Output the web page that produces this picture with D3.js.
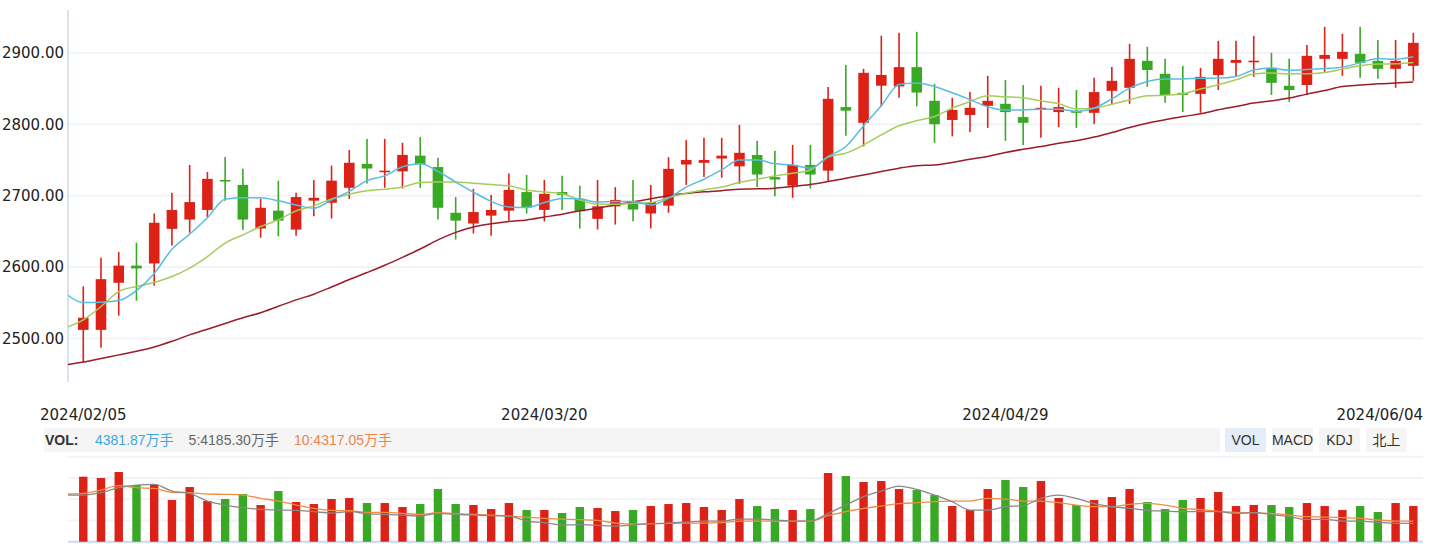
<!DOCTYPE html>
<html lang="zh">
<head>
<meta charset="UTF-8">
<title>K线 - VOL</title>
<script src="https://d3js.org/d3.v7.min.js"></script>
<style>
  html, body { margin: 0; padding: 0; background: #fff; }
  svg { display: block; font-family: "DejaVu Sans", sans-serif; }
  .hdr { font-family: "Liberation Sans", "Noto Sans CJK SC", sans-serif; font-size: 14px; }
</style>
</head>
<body>
<svg id="chart" width="1437" height="544"></svg>
<script>
// trading days shown
const dates = [
  "2024/02/05","2024/02/06","2024/02/07","2024/02/08","2024/02/19","2024/02/20","2024/02/21","2024/02/22","2024/02/23",
  "2024/02/26","2024/02/27","2024/02/28","2024/02/29","2024/03/01","2024/03/04","2024/03/05","2024/03/06","2024/03/07",
  "2024/03/08","2024/03/11","2024/03/12","2024/03/13","2024/03/14","2024/03/15","2024/03/18","2024/03/19","2024/03/20",
  "2024/03/21","2024/03/22","2024/03/25","2024/03/26","2024/03/27","2024/03/28","2024/03/29","2024/04/01","2024/04/02",
  "2024/04/03","2024/04/08","2024/04/09","2024/04/10","2024/04/11","2024/04/12","2024/04/15","2024/04/16","2024/04/17",
  "2024/04/18","2024/04/19","2024/04/22","2024/04/23","2024/04/24","2024/04/25","2024/04/26","2024/04/29","2024/04/30",
  "2024/05/06","2024/05/07","2024/05/08","2024/05/09","2024/05/10","2024/05/13","2024/05/14","2024/05/15","2024/05/16",
  "2024/05/17","2024/05/20","2024/05/21","2024/05/22","2024/05/23","2024/05/24","2024/05/27","2024/05/28","2024/05/29",
  "2024/05/30","2024/05/31","2024/06/03","2024/06/04"
];

const open = [2512,2512,2578,2602,2605,2653.5,2666.5,2680,2722,2715,2654,2679,2652.5,2693,2690,2711,2744.5,2734,2734,2756,
  2740,2676,2661,2672,2679,2705,2680,2705,2695.5,2667.5,2685,2692,2675,2686,2743.6,2746,2752,2741,2757,2726,
  2714,2743,2735,2824,2802,2854,2853,2880,2832.8,2806,2813,2825.8,2828.6,2810,2820,2817,2818.8,2816,2846.8,2851,
  2888.8,2870.6,2844,2842.6,2869,2886,2888,2879,2853.8,2855,2891.6,2891.6,2898.6,2888.8,2877.6,2881.8];
const close = [2529,2583,2602,2598,2662,2680,2691,2723.5,2721,2666.5,2683,2665,2698,2697,2721,2746,2738,2735,2757,2744,
  2683,2665,2677,2680,2708,2683,2702.5,2701,2678,2685,2694,2680.5,2691,2737.5,2750,2750,2756,2760,2729.6,2722.6,
  2743,2729.6,2835.6,2819,2872,2869,2880,2844.4,2800,2820,2823,2832.8,2817,2802,2823,2824,2816,2845,2860.8,2891.6,
  2876,2841,2841,2866.4,2891.6,2890,2889,2858,2848,2895.8,2897,2901.4,2886,2877.6,2888.8,2914];
const high = [2573,2613,2621,2634,2675,2704,2743,2733,2754,2737.5,2695.5,2721,2704,2722,2742,2764,2779.5,2779.5,2774,2782,
  2753,2698,2709.5,2701,2731,2729,2722,2728,2714,2722,2712,2722,2715,2754,2778,2781,2781,2799,2777,2763,
  2771,2771,2852,2883,2877.6,2924,2928,2929.4,2856.6,2837,2845,2867.8,2862,2855,2853.8,2851,2848,2865,2880,2912.6,
  2908.4,2891.6,2881.8,2879,2916.8,2916.8,2923.8,2900,2891.6,2911,2936.4,2926.6,2936.4,2918,2918,2928];
const low = [2467,2487,2532,2553,2574,2630,2648,2670,2693,2652,2641,2643,2644,2671,2668,2695.5,2717,2711,2710,2711,
  2666.5,2638.5,2647,2644,2665,2675,2664,2680,2654,2652.5,2659.5,2664,2654,2676,2715,2726,2725,2716.5,2712,2699,
  2697,2710,2719,2784,2769,2825,2837,2825,2774,2783,2789,2795,2776.7,2771,2781,2796,2795,2800.5,2827,2828.6,
  2852.4,2830,2817,2816,2848,2866.4,2866.4,2841,2831.4,2841,2872,2867.8,2865,2863.6,2851,2860.8];

// moving averages; first value belongs to the session before 2024/02/05 (clipped at the axis)
const ma5 = [2563,
  2550.3,2550.8,2553,2567,2591,2625,2646,2669,2695,2697,2697,2692.7,2687,2682.4,2694,2706,2721,2727.7,2740.5,2744.5,
  2734,2719,2705,2692,2684,2683.3,2690.3,2696,2695.5,2691,2691.7,2691.7,2687,2696.5,2712,2723,2736,2750,2750,2744.5,
  2743,2738.5,2754.8,2768.8,2798,2826,2855.5,2857.6,2852.8,2844,2834.5,2824.5,2820,2820,2821,2821,2818,2822.5,2835.5,2850.5,
  2860,2863.4,2863.4,2864.5,2864.6,2866.8,2876,2878.8,2875.5,2876.5,2878,2880,2886,2892,2891,2894.4];
const ma10 = [2515,
  2526,2544.7,2565.7,2572.7,2578.3,2586.7,2598.5,2614.7,2633.5,2645,2656.7,2666,2678.7,2685.7,2695.5,2702,2707,2709,2712,2718.4,
  2719,2719,2717.5,2715.5,2713.7,2708,2705,2702.5,2694,2688,2688,2689.5,2690.3,2697.3,2703.5,2708,2712,2718.4,2723,2727.7,
  2731.5,2736,2754,2759.5,2771,2785,2797.8,2804.8,2810.8,2822.5,2831.8,2839.8,2838.4,2837,2832.8,2828.6,2821.6,2822.5,2828,2834.2,
  2839.8,2840.7,2842.6,2849.4,2855.2,2862.2,2870.2,2871.6,2870.6,2870.6,2872.4,2877.2,2881.8,2884.2,2884.6,2886.4];
const ma30 = [2463,
  2467,2472,2477,2482,2488,2496,2505,2513,2521,2529,2536,2545,2554,2562,2572,2582.5,2592.3,2602.5,2613.6,2625.3,
  2638,2648.5,2656,2660.5,2663.7,2666,2670,2674,2678.7,2682.5,2687,2691.3,2695.5,2700,2703,2705.3,2707,2709,2709.5,2710.5,
  2712.7,2715.5,2719.7,2724.5,2729,2733.8,2738.5,2742,2743,2746.4,2751,2754.8,2760.4,2765,2768.8,2773.5,2777,2782,2788.4,2795.4,
  2801.5,2806.2,2810.8,2814.6,2820.2,2824.8,2829.6,2832.8,2836.6,2842.2,2847.2,2852.8,2854.8,2856.6,2857.6,2859];

// volume, 万手
const vol = [7985,7821,8559,6962,7043,5119,6716,4996,5242,5856,4505,6224,4873,4627,5242,5364,4750,4750,4259,4627,
  6470,4627,4505,4013,4750,3890,3890,3522,4259,4136,3767,3890,4382,4627,4750,4259,3890,5242,4382,4013,
  3890,4013,8436,8067,7330,7453,6470,6347,5733,4382,3890,6470,7576,6716,7453,5364,4505,5119,5487,6470,
  4873,4013,5119,5364,6102,4382,4505,4505,4259,4750,4382,3890,4382,3645,4750,4381.87];
const volMa5 = [5733,
  5733,6020,6634,6962,7043,6224,5938,4996,4505,4177,3972,3890,3849,3686,3522,3686,3440,3358,3276,3153,
  3481,3358,3276,3194,3153,2539,2334,2048,2088,2007,1925,2048,2211,2293,2416,2539,2539,2785,2785,2662,
  2539,2539,3481,4505,5528,6224,6839,6429,5733,4914,3890,3890,4300,4423,5324,5733,5324,4668,4300,4095,
  3849,3767,3686,3686,3686,3481,3563,3358,3071,2744,2744,2539,2539,2375,2252,2252];
const volMa10 = [5856,
  5938,6347,6880,6634,6552,6061,6020,5856,5815,5733,5324,4996,4505,4095,3849,3808,3604,3604,3481,3358,
  3563,3440,3358,3276,3153,3030,2867,2785,2703,2621,2293,2170,2211,2252,2293,2293,2334,2539,2539,2539,
  2539,2539,3194,3686,4095,4382,4668,4791,4914,4996,4996,5324,5242,4996,4996,4791,4505,4300,4300,4586,
  4709,4505,4095,3931,3726,3604,3563,3481,3276,3071,3030,2948,2867,2662,2539,2539];

const yTicks = [2500, 2600, 2700, 2800, 2900];
const xTickIdx = [0, 26, 52, 75];
const volHeader = [
  { text: "4381.87万手", color: "#3fa6d9" },
  { text: "5:4185.30万手", color: "#666666" },
  { text: "10:4317.05万手", color: "#f0824a" }
];
const tabs = ["VOL", "MACD", "KDJ", "北上"];

const UP = "#dc2117", DOWN = "#38a825";
const svg = d3.select("#chart");

const plotL = 68, plotR = 1423;
const xi = d3.scaleLinear().domain([-0.5, dates.length - 0.5]).range([74.4, 1422.2]);
const step = xi(1) - xi(0);
const y = d3.scaleLinear().domain([2439, 2960]).range([382, 10]);
const yv = d3.scaleLinear().domain([0, 10442]).range([541.7, 456.7]);

const defs = svg.append("defs");
defs.append("clipPath").attr("id", "clipK").append("rect")
  .attr("x", plotL).attr("y", 10).attr("width", plotR - plotL).attr("height", 372);
defs.append("clipPath").attr("id", "clipV").append("rect")
  .attr("x", plotL).attr("y", 452).attr("width", plotR - plotL).attr("height", 92);

// price grid
svg.append("g").selectAll("line").data(yTicks).join("line")
  .attr("x1", plotL + 1).attr("x2", plotR)
  .attr("y1", d => y(d)).attr("y2", d => y(d))
  .attr("stroke", "#f1f3f6").attr("stroke-width", 2);

svg.append("line").attr("x1", plotL).attr("x2", plotL).attr("y1", 10).attr("y2", 382)
  .attr("stroke", "#cdd9ea").attr("stroke-width", 1.5);

const yAxis = d3.axisLeft(y).tickValues(yTicks).tickSize(0).tickPadding(4).tickFormat(d3.format(".2f"));
svg.append("g").attr("transform", `translate(${plotL},0)`).call(yAxis)
  .call(g => g.select(".domain").remove())
  .call(g => g.selectAll("text").attr("font-size", 15).attr("fill", "#222")
    .attr("font-family", "DejaVu Sans, sans-serif"));

// candles
const idx = d3.range(dates.length);
const bodyW = 10.6;
const candles = svg.append("g");
candles.selectAll("line").data(idx).join("line")
  .attr("x1", i => xi(i)).attr("x2", i => xi(i))
  .attr("y1", i => y(high[i])).attr("y2", i => y(low[i]))
  .attr("stroke", i => close[i] >= open[i] ? UP : DOWN).attr("stroke-width", 1.6);
candles.selectAll("rect").data(idx).join("rect")
  .attr("x", i => xi(i) - bodyW / 2).attr("width", bodyW)
  .attr("y", i => y(Math.max(open[i], close[i])))
  .attr("height", i => Math.max(1.6, Math.abs(y(open[i]) - y(close[i]))))
  .attr("fill", i => close[i] >= open[i] ? UP : DOWN);

// MA lines (index shifted by one for the leading value)
const maLine = (scale) => d3.line().x((d, k) => xi(k - 1)).y(d => scale(d)).curve(d3.curveMonotoneX);
const maG = svg.append("g").attr("clip-path", "url(#clipK)").attr("fill", "none");
[[ma30, "#9b1c2b"], [ma10, "#a6cc5c"], [ma5, "#58bde0"]].forEach(([s, c]) => {
  maG.append("path").attr("d", maLine(y)(s)).attr("stroke", c).attr("stroke-width", 1.5);
});

// x labels
svg.append("g").selectAll("text").data(xTickIdx).join("text")
  .attr("x", (i, k) => k === xTickIdx.length - 1 ? plotR : xi(i))
  .attr("y", 420)
  .attr("text-anchor", (i, k) => k === xTickIdx.length - 1 ? "end" : "middle")
  .attr("font-size", 15).attr("fill", "#222")
  .text(i => dates[i]);

// volume header
svg.append("rect").attr("x", 44).attr("y", 428).attr("width", 1176).attr("height", 24).attr("fill", "#f5f5f5");
svg.append("text").attr("class", "hdr").attr("x", 45).attr("y", 445).attr("font-weight", "bold")
  .attr("fill", "#333").text("VOL:");
let hx = 95;
volHeader.forEach(h => {
  const t = svg.append("text").attr("class", "hdr").attr("x", hx).attr("y", 445).attr("fill", h.color).text(h.text);
  hx += t.node().getComputedTextLength() + 15;
});
const tabX = [1225, 1272, 1319, 1366];
tabs.forEach((t, k) => {
  svg.append("rect").attr("x", tabX[k]).attr("y", 428).attr("width", 41).attr("height", 24)
    .attr("fill", k === 0 ? "#e5edf8" : "#f5f5f5");
  svg.append("text").attr("class", "hdr").attr("x", tabX[k] + 20.5).attr("y", 445)
    .attr("text-anchor", "middle").attr("fill", "#333").text(t);
});

// volume grid
const vGrid = d3.range(5).map(k => yv.domain()[1] * k / 4);
svg.append("g").selectAll("line").data(vGrid).join("line")
  .attr("x1", plotL).attr("x2", plotR)
  .attr("y1", d => yv(d)).attr("y2", d => yv(d))
  .attr("stroke", (d, k) => k === 0 ? "#cdd9ea" : "#f1f3f6").attr("stroke-width", 2);

svg.append("g").selectAll("rect").data(idx).join("rect")
  .attr("x", i => xi(i) - 4.2).attr("width", 8.4)
  .attr("y", i => yv(vol[i])).attr("height", i => yv(0) - yv(vol[i]))
  .attr("fill", i => close[i] >= open[i] ? UP : DOWN);

const vG = svg.append("g").attr("clip-path", "url(#clipV)").attr("fill", "none");
[[volMa10, "#f28c45"], [volMa5, "#888888"]].forEach(([s, c]) => {
  vG.append("path").attr("d", maLine(yv)(s)).attr("stroke", c).attr("stroke-width", 1.3);
});
</script>
</body>
</html>
